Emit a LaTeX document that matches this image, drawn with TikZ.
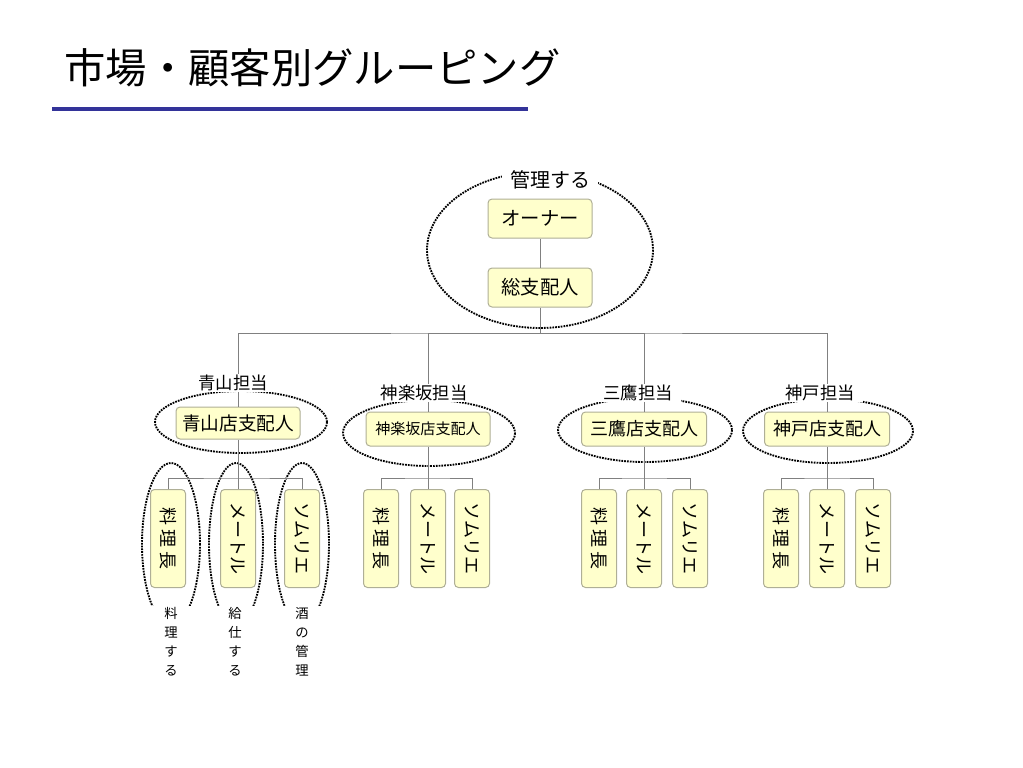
\documentclass[tikz,border=0pt]{standalone}
\usepackage{fontspec}
\setmainfont{Noto Sans CJK JP}
\usetikzlibrary{calc}

\definecolor{boxfill}{RGB}{255,255,204}
\definecolor{boxline}{RGB}{175,175,150}
\definecolor{linkgray}{RGB}{128,128,128}
\definecolor{rulenavy}{RGB}{51,51,153}
\newcommand{\setfs}[1]{\fontsize{#1}{#1}\selectfont}

\tikzset{every picture/.style={line width=0.75pt}}
\tikzset{
  rolebox/.style={draw=boxline, fill=boxfill, rounded corners=3pt, inner sep=0pt},
  vrolebox/.style={rolebox, minimum width=26.25pt, minimum height=73.5pt, font=\setfs{13.5}},
  dotring/.style={line width=1.4pt, dash pattern=on 1.3pt off 0.8pt},
  link/.style={draw=linkgray, line width=0.75pt},
  tag/.style={fill=white, inner xsep=6pt, inner ysep=1pt},
  note/.style={fill=white, align=center, minimum width=33pt, inner sep=0.75pt, font=\fontsize{10}{14.25}\selectfont},
}

\begin{document}
\begin{tikzpicture}[x=0.75pt,y=0.75pt,yscale=-1,xscale=1]
\useasboundingbox (0,0) rectangle (1023,767);

% Text Node
\node[anchor=west, inner sep=0pt, font=\setfs{31}] (title) at (64,68) {市場・顧客別グルーピング};
%Straight Lines
\draw[rulenavy, line width=3pt] (52,109) -- (528,109);

%Shape: Ellipse
\draw[dotring] (540,250) ellipse [x radius=113, y radius=78];
\draw[dotring] (241,422) ellipse [x radius=86, y radius=31];
\draw[dotring] (429,433) ellipse [x radius=86, y radius=33];
\draw[dotring] (645,430) ellipse [x radius=87, y radius=32];
\draw[dotring] (828,431) ellipse [x radius=85, y radius=32];
\draw[dotring] (171,544) ellipse [x radius=29, y radius=81];
\draw[dotring] (236,544) ellipse [x radius=27, y radius=81];
\draw[dotring] (302,544) ellipse [x radius=27, y radius=81];

% Boxes
\node[rolebox, minimum width=78pt, minimum height=29.25pt, font=\setfs{14.5}] (owner) at (540,218.5) {オーナー};
\node[rolebox, minimum width=78pt, minimum height=29.25pt, font=\setfs{14.5}] (gm) at (540,287.5) {総支配人};
\node[rolebox, minimum width=93pt, minimum height=24pt, font=\setfs{14}] (aoMgr) at (238,423) {青山店支配人};
\node[rolebox, minimum width=93pt, minimum height=25.5pt, font=\setfs{11.3}] (kgMgr) at (428,429) {神楽坂店支配人};
\node[rolebox, minimum width=93.75pt, minimum height=25.5pt, font=\setfs{13.5}] (mtMgr) at (644,429) {三鷹店支配人};
\node[rolebox, minimum width=93.75pt, minimum height=25.5pt, font=\setfs{13.5}] (kbMgr) at (827,429) {神戸店支配人};

\node[vrolebox] (aoCook) at (168,538.5) {\rotatebox{-90}{料\hspace{3pt}理\hspace{3pt}長}};
\node[vrolebox] (aoMai) at (238,538.5) {\rotatebox{-90}{メートル}};
\node[vrolebox] (aoSom) at (302,538.5) {\rotatebox{-90}{ソムリエ}};
\node[vrolebox] (kgCook) at (381,538.5) {\rotatebox{-90}{料\hspace{3pt}理\hspace{3pt}長}};
\node[vrolebox] (kgMai) at (428,538.5) {\rotatebox{-90}{メートル}};
\node[vrolebox] (kgSom) at (472,538.5) {\rotatebox{-90}{ソムリエ}};
\node[vrolebox] (mtCook) at (599,538.5) {\rotatebox{-90}{料\hspace{3pt}理\hspace{3pt}長}};
\node[vrolebox] (mtMai) at (644,538.5) {\rotatebox{-90}{メートル}};
\node[vrolebox] (mtSom) at (690,538.5) {\rotatebox{-90}{ソムリエ}};
\node[vrolebox] (kbCook) at (781,538.5) {\rotatebox{-90}{料\hspace{3pt}理\hspace{3pt}長}};
\node[vrolebox] (kbMai) at (827,538.5) {\rotatebox{-90}{メートル}};
\node[vrolebox] (kbSom) at (873,538.5) {\rotatebox{-90}{ソムリエ}};

%Straight Lines
\coordinate (bus) at (540,333);
\draw[link] (owner) -- (gm);
\draw[link] (gm) -- (bus);
\draw[link] (aoMgr) |- (bus) -| (kbMgr);
\draw[link] (kgMgr) |- (bus);
\draw[link] (mtMgr) |- (bus);

\foreach \g in {ao,kg,mt,kb}{
  \coordinate (\g Split) at ($(\g Mai.north)+(0,-11)$);
  \draw[link] (\g Mgr) -- (\g Mai);
  \draw[link] (\g Cook) |- (\g Split) -| (\g Som);
}

% Text Node
\node[tag, font=\setfs{15}] (manageTag) at (550,180) {管理する};
\node[tag, font=\setfs{13}] (aoTag) at (233,383) {青山担当};
\node[tag, font=\setfs{13}] (kgTag) at (424,393) {神楽坂担当};
\node[tag, font=\setfs{13}] (mtTag) at (638,393) {三鷹担当};
\node[tag, font=\setfs{13}] (kbTag) at (820,393) {神戸担当};

% Text Node
\node[note] (cookNote) at (171,641.5) {料\\理\\す\\る};
\node[note] (maiNote) at (235,641.5) {給\\仕\\す\\る};
\node[note] (somNote) at (302,641.5) {酒\\の\\管\\理};

\end{tikzpicture}
\end{document}
